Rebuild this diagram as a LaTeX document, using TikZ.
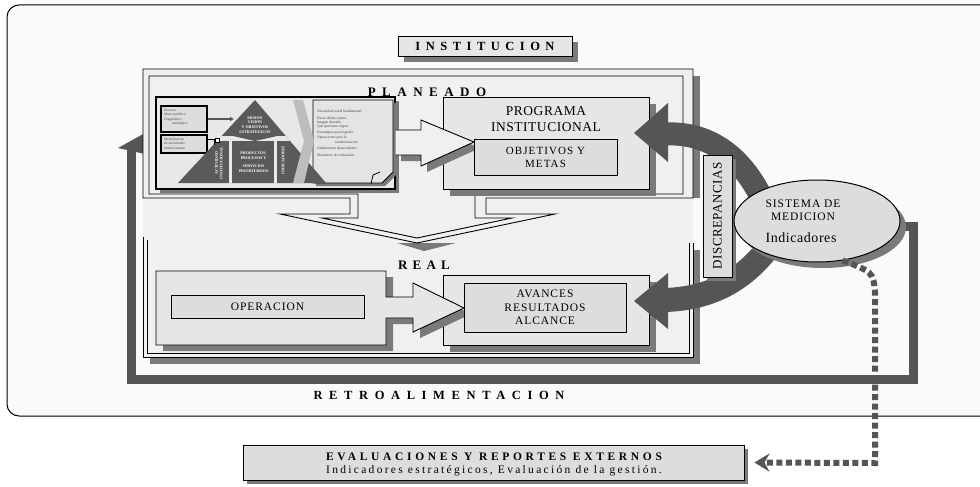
\documentclass[tikz,border=0pt]{standalone}
\usepackage{fontspec}
\setmainfont{Liberation Serif}
\usetikzlibrary{arrows.meta,shapes.geometric,shadows,calc}
\definecolor{framefill}{HTML}{FAFAFA}
\definecolor{panelc}{HTML}{F0F0F0}
\definecolor{boxa}{HTML}{E6E6E6}
\definecolor{boxb}{HTML}{DDDDDD}
\definecolor{shadowc}{HTML}{7A7A7A}
\definecolor{darkc}{HTML}{555555}
\definecolor{chevc}{HTML}{BDBDBD}
\definecolor{pyrc}{HTML}{5A5A5A}
\definecolor{imgc}{HTML}{E8E8E8}
\definecolor{pagec}{HTML}{E4E4E4}
\definecolor{tinyc}{HTML}{444444}
\newcommand{\ls}[1]{\addfontfeatures{LetterSpace=#1}}
\newcommand{\fs}[2]{\fontsize{#1}{#2}\selectfont}
\tikzset{
  shad/.style={drop shadow={fill=shadowc,opacity=1,shadow xshift=#1,shadow yshift=-#1}},
  shad/.default=6pt,
  boxstyle/.style={draw=black,line width=0.9pt,fill=boxa,inner sep=0pt,align=center},
  frameline/.style={line width=0.9pt},
  tinytxt/.style={inner sep=0pt,align=left,text=tinyc},
  pyrtxt/.style={inner sep=0pt,align=center,text=white,font=\fs{4}{4.8}\bfseries},
}
\begin{document}
\begin{tikzpicture}[x=1pt,y=-1pt]
\useasboundingbox (0,0) rectangle (980,487);
\fill[white] (0,0) rectangle (980,487);
% outer frame
\draw[line width=1pt,fill=framefill,rounded corners=12pt] (7,5) rectangle (995,416);
% feedback bar
\draw[darkc,line width=9pt] (895,226) -- (913,226) -- (913,379) -- (131,379) -- (131,150);
\fill[darkc] (118,148) -- (145,133) -- (145,154) -- cycle;
% panel shadows and fill
\fill[shadowc] (693,76) rectangle (700,198);
\fill[shadowc] (693,250) rectangle (700,364);
\fill[shadowc] (150,357) rectangle (700,364);
\fill[panelc] (143,69) rectangle (693,357);
\fill[shadowc] (397,243) -- (456,243) -- (424,251) -- cycle;
% planeado double frame with down arrow
\draw[frameline] (143,69) -- (693,69) -- (693,198) -- (486,198) -- (486,214) -- (555,214) -- (417,243) -- (280,214) -- (350,214) -- (350,198) -- (143,198) -- cycle;
\draw[frameline] (149,76) -- (683,76) -- (683,194) -- (475,194) -- (475,218) -- (512,218) -- (417,238) -- (322,218) -- (358,218) -- (358,194) -- (149,194) -- cycle;
% real double frame
\draw[frameline] (143,237) -- (143,357) -- (693,357) -- (693,243);
\draw[frameline] (147,240) -- (147,353) -- (689,353) -- (689,243);
% labels
\node[font=\fs{13}{15}\bfseries\ls{50}] (planlbl) at (427,92) {PLANEADO};
\node[font=\fs{13}{15}\bfseries\ls{40}] (reallbl) at (424,265) {REAL};
\node[font=\fs{12.5}{15}\bfseries\ls{53}] (retro) at (439,395) {RETROALIMENTACION};
% institucion
\node[boxstyle,shad=6pt,minimum width=174pt,minimum height=20pt,font=\fs{12.5}{15}\bfseries\ls{44}] (inst) at (485,46) {INSTITUCION};
% image panel
\node[draw,line width=1.3pt,fill=imgc,shad=4pt,minimum width=239pt,minimum height=92pt,inner sep=0pt] (img) at (275.5,143) {};
\node[draw,line width=1.2pt,fill=boxb,minimum width=46pt,minimum height=26pt,inner sep=0pt] (b1) at (184,119) {};
\node[tinytxt,font=\fs{3.6}{4.3},anchor=north west] (b1t) at (164,109) {Entorno\\Marco jurídico\\Diagnóstico\\\hspace*{8pt}estratégico};
\node[draw,line width=1.2pt,fill=boxb,minimum width=46pt,minimum height=18pt,inner sep=0pt] (b2) at (184,144) {};
\node[tinytxt,font=\fs{3.6}{4.5},anchor=north west] (b2t) at (164,137.5) {Identificación\\de actividades\\institucionales};
% notes page
\fill[shadowc] (316,103) -- (396,103) -- (396,175) -- (385,186) -- (316,186) -- cycle;
\draw[line width=0.8pt,fill=pagec] (313,100) -- (393,100) -- (393,172) -- (382,183) -- (313,183) -- cycle;
\draw[line width=0.8pt] (371,184) -- (373,175) -- (380,172);
\node[tinytxt,font=\fs{3.7}{4.3},anchor=north west] (pagetxt) at (317,110) {Necesidad social fundamental\\[2.6pt]Hacia dónde vamos\\[-0.3pt]Imagen deseada\\[-0.3pt]Qué queremos lograr\\[1.7pt]Estrategias para lograrlo\\[0.7pt]Operaciones para la\\[0.7pt]\hspace*{18pt}transformación\\[1.7pt]Satisfactores desarrollados\\[2.7pt]Elementos de evaluación};
% pyramid
\fill[pyrc] (178,183) -- (255,100) -- (326,183) -- cycle;
\begin{scope}
\clip (178,183) -- (255,100) -- (326,183) -- cycle;
\fill[imgc] (170,136) rectangle (330,141);
\fill[imgc] (229,141) rectangle (232,183);
\fill[imgc] (274,141) rectangle (277,183);
\end{scope}
\fill[pyrc] (233,136) -- (277,136) -- (255,141) -- cycle;
\draw[line width=0.9pt] (207,139) -- (214,139) -- (214,145);
\draw[fill=white,line width=0.5pt] (215,138) rectangle (219,142);
\draw[darkc,line width=1.6pt,-{Latex[length=4pt,width=5pt]}] (b1.east) -- (234,119);
\node[pyrtxt] (mision) at (255,125) {MISION\\VISION\\Y OBJETIVOS\\ESTRATEGICOS};
\node[pyrtxt] (prodtxt) at (253.5,162) {PRODUCTOS,\\PROCESOS Y\\[3pt]SERVICIOS\\PRIORITARIOS};
\node[pyrtxt,rotate=90] (acttxt) at (219,163) {ACTIVIDAD\\INSTITUCIONAL};
\node[pyrtxt,rotate=90] (indtxt) at (283,160) {INDICADORES};
\fill[chevc] (293,100) -- (303,100) -- (314,141) -- (304,183) -- (293,183) -- (304,141) -- cycle;
% programa
\node[boxstyle,shad=7pt,minimum width=206pt,minimum height=92pt] (prog) at (546,143) {};
\node[font=\fs{13.5}{16}\ls{4},align=center] (progtxt) at (546,119) {PROGRAMA\\INSTITUCIONAL};
% hollow arrow planeado -> programa
\fill[shadowc,shift={(6,6)}] (395,130) -- (421,130) -- (421,120) -- (474,142) -- (421,166) -- (421,155) -- (395,155) -- cycle;
\draw[line width=0.9pt,fill=panelc] (img.east|-0,130) -- (421,130) -- (421,120) -- (474,142) -- (421,166) -- (421,155) -- (img.east|-0,155);
\node[boxstyle,fill=boxb,minimum width=143pt,minimum height=36pt,font=\fs{11}{13}\ls{10}] (obj) at (545.5,157) {OBJETIVOS Y\\METAS};
% avances
\node[boxstyle,shad=7pt,minimum width=206pt,minimum height=70pt] (av) at (546,310) {};
% operacion with arrow
\fill[shadowc,shift={(7,6)}] (156,271) -- (386,271) -- (386,297) -- (413,297) -- (413,283) -- (464,308) -- (413,332) -- (413,318) -- (386,318) -- (386,345) -- (156,345) -- cycle;
\draw[line width=0.9pt,fill=boxa] (156,271) -- (386,271) -- (386,297) -- (413,297) -- (413,283) -- (464,308) -- (413,332) -- (413,318) -- (386,318) -- (386,345) -- (156,345) -- cycle;
\node[boxstyle,fill=boxb,minimum width=193pt,minimum height=23pt,font=\fs{11.5}{13}\ls{8}] (operin) at (267.5,306.5) {OPERACION};
\node[boxstyle,fill=boxb,minimum width=162pt,minimum height=49pt,font=\fs{11.5}{13.5}\ls{8}] (avin) at (545,307.5) {AVANCES\\RESULTADOS\\ALCANCE};
% curved arrows from sistema de medicion
\draw[darkc,line width=23pt] (666,134) .. controls (712,132) and (745,160) .. (765,205);
\fill[darkc] (634,133) -- (668,103) -- (668,162) -- cycle;
\draw[darkc,line width=24pt] (666,300) .. controls (712,298) and (745,280) .. (772,243);
\fill[darkc] (634,301) -- (668,273) -- (668,329) -- cycle;
% discrepancias
\node[boxstyle,fill=boxb,shad=4pt,minimum width=29pt,minimum height=122pt] (disc) at (717.5,216) {};
\node[rotate=90,font=\fs{13}{15}\ls{4}] (disctxt) at (disc) {DISCREPANCIAS};
% sistema de medicion
\node[ellipse,draw,line width=1pt,fill=boxb,shad=6pt,minimum width=166pt,minimum height=82pt,inner sep=0pt] (ell) at (817,221) {};
\node[font=\fs{11.5}{12.5}\ls{8},align=center] (elltxt) at (803,210) {SISTEMA DE\\MEDICION};
\node[font=\fs{14}{16}\ls{4}] (ind) at (801,238) {Indicadores};
% evaluaciones
\node[boxstyle,fill=boxb,shad=4pt,minimum width=501pt,minimum height=35pt] (eval) at (493.5,462.5) {};
\node[font=\fs{11.5}{13}\bfseries\ls{32}] (evalt1) at (494,457) {EVALUACIONES Y REPORTES EXTERNOS};
\node[font=\fs{11.5}{13}\ls{20}] (evalt2) at (494,471) {Indicadores estratégicos, Evaluación de la gestión.};
\coordinate (dc1) at (875,463);
\draw[darkc,line width=6pt,dash pattern=on 6pt off 3.5pt,-{Stealth[length=15pt,width=18pt,inset=5pt]}] (ell.-57) .. controls (873,272) .. (875,292) -- (dc1) -- ($(eval.east)+(10,0)$);
\end{tikzpicture}
\end{document}
